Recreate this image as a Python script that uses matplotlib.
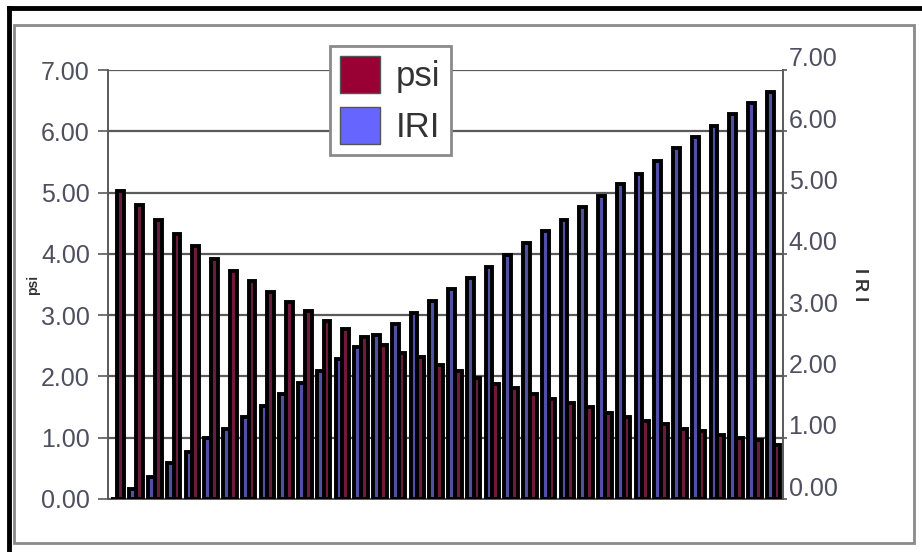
import numpy as np
import matplotlib
matplotlib.use('Agg')
import matplotlib.pyplot as plt
from matplotlib.patches import Rectangle, Patch
from matplotlib.lines import Line2D
import matplotlib.transforms as mtransforms

plt.rcParams['font.family'] = ['Liberation Sans', 'DejaVu Sans']

# values, one pair per section
psi = [5.03, 4.80, 4.56, 4.33, 4.13, 3.91, 3.72, 3.55, 3.38, 3.22, 3.07, 2.91,
       2.78, 2.64, 2.51, 2.39, 2.31, 2.18, 2.09, 1.97, 1.88, 1.81, 1.71, 1.63,
       1.56, 1.50, 1.40, 1.33, 1.28, 1.22, 1.15, 1.11, 1.04, 0.99, 0.96, 0.88]
iri = [0.00, 0.17, 0.36, 0.59, 0.76, 0.99, 1.14, 1.33, 1.52, 1.71, 1.89, 2.09,
       2.28, 2.48, 2.68, 2.85, 3.04, 3.23, 3.42, 3.60, 3.79, 3.98, 4.17, 4.37,
       4.56, 4.77, 4.94, 5.14, 5.31, 5.52, 5.72, 5.90, 6.08, 6.29, 6.46, 6.64]
yticks = [0, 1, 2, 3, 4, 5, 6, 7]
ytick_labels = ['%.2f' % v for v in yticks]

psi_col = '#990033'
iri_col = '#6666ff'
txt_col = '#4f4f5f'

fig = plt.figure(figsize=(9.22, 5.52), dpi=100)
ax = fig.add_axes([108/922, 1-499/552, (783-108)/922, (499-70)/552])
ax2 = ax.twinx()

x = np.arange(len(psi))
w = 0.36
# bars in the original print come out darker than the legend swatches
ax.bar(x + w/2, psi, width=w, color='#6e1a3c', edgecolor='black', linewidth=2.8, zorder=3)
ax2.bar(x - w/2, iri, width=w, color='#5050a6', edgecolor='black', linewidth=2.8, zorder=3)

for a in (ax, ax2):
    a.set_xlim(-0.5, len(psi) - 0.5)
    a.set_ylim(0, 7)
    a.set_xticks([])
    a.set_yticks(yticks)
    a.set_yticklabels(ytick_labels)
    a.set_facecolor('none')
    for s in a.spines.values():
        s.set_visible(False)

ax.yaxis.grid(True, color='#5a5a5a', linewidth=1.6, zorder=0)
ax.set_axisbelow(True)
ax.spines['left'].set_visible(True)
ax.spines['left'].set_color('#5a5a5a')
ax.spines['left'].set_linewidth(1.4)
ax.spines['bottom'].set_visible(True)
ax.spines['bottom'].set_color('#5a5a5a')
ax.spines['bottom'].set_linewidth(1.4)
ax2.spines['right'].set_visible(True)
ax2.spines['right'].set_color('#5a5a5a')
ax2.spines['right'].set_linewidth(1.4)

ax.tick_params(axis='y', length=7, width=1.2, color='#5a5a5a', pad=6,
               labelsize=18, labelcolor=txt_col)
ax2.tick_params(axis='y', length=3, width=1.2, color='#5a5a5a', pad=1,
                labelsize=18, labelcolor=txt_col)
# right-hand labels sit a little above their lines
off = mtransforms.ScaledTranslation(0, 0.13, fig.dpi_scale_trans)
for t in ax2.get_yticklabels():
    t.set_transform(t.get_transform() + off)

ax.set_ylabel('psi', fontsize=10, fontweight='bold', color='#333333', labelpad=1)
ax2.set_ylabel('I R I', fontsize=13, fontweight='bold', color='#333333',
               rotation=270, labelpad=16, va='center')

handles = [Patch(facecolor=psi_col, edgecolor='#555555', linewidth=1),
           Patch(facecolor=iri_col, edgecolor='#555555', linewidth=1)]
leg = fig.legend(handles, ['psi', 'IRI'], loc='upper left',
                 bbox_to_anchor=(330/922, 1-46/552), fontsize=25,
                 handlelength=1.15, handleheight=1.25, handletextpad=0.45,
                 borderpad=0.3, labelspacing=0.4, borderaxespad=0,
                 fancybox=False, edgecolor='#8a8a8a', framealpha=1)
leg.get_frame().set_linewidth(2)
for t in leg.get_texts():
    t.set_color('#333333')

# chart area frame and outer black border
fig.add_artist(Rectangle((14/922, 1-543/552), 900/922, 518/552, transform=fig.transFigure,
                         fill=False, edgecolor='#8a8a8a', linewidth=2))
fig.add_artist(Line2D([9/922, 1], [1-8/552, 1-8/552], transform=fig.transFigure,
                      color='black', linewidth=3.5))
fig.add_artist(Line2D([9/922, 9/922], [0, 1-8/552], transform=fig.transFigure,
                      color='black', linewidth=3.5))

fig.savefig('out.png', dpi=100)
